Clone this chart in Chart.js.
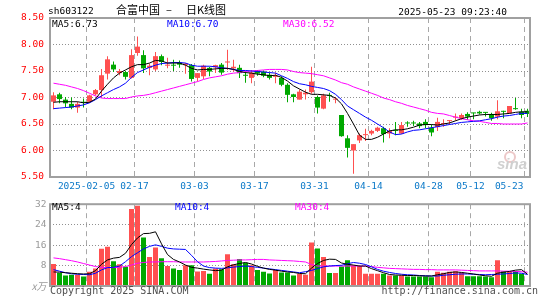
<!DOCTYPE html>
<html>
<head>
<meta charset="utf-8">
<script src="https://cdn.jsdelivr.net/npm/chart.js@4.4.1/dist/chart.umd.min.js"></script>
<style>
  body { margin: 0; background: #fff; }
  #wrap { position: relative; width: 545px; height: 300px; overflow: hidden; background: #fff; }
  canvas { position: absolute; left: 0; }
  .t { position: absolute; white-space: pre; font-family: 'DejaVu Sans Mono', monospace; font-size: 9.5px; line-height: 10px; }
  .cjk { position: absolute; white-space: pre; font-family: 'Noto Sans CJK SC', sans-serif; font-size: 11px; line-height: 11px; }
</style>
</head>
<body>
<div id="wrap">
  <canvas id="kChart" width="545" height="195" style="top:0"></canvas>
  <canvas id="volChart" width="545" height="105" style="top:195px"></canvas>

  <div class="t" style="left:48px;top:6px;color:#000">sh603122</div>
  <div class="cjk" style="left:116px;top:3.5px;color:#000">合富中国</div>
  <div class="cjk" style="left:166px;top:3.5px;color:#000">–</div>
  <div class="cjk" style="left:186px;top:3.5px;color:#000">日K线图</div>
  <div class="t" style="right:38px;top:7px;color:#000">2025-05-23 09:23:40</div>

  <div class="t" style="left:52px;top:19px;color:#000">MA5:6.73</div>
  <div class="t" style="left:167px;top:19px;color:#0000ff">MA10:6.70</div>
  <div class="t" style="left:283px;top:19px;color:#ff00ff">MA30:6.52</div>

  <div class="t" style="left:52px;top:202px;color:#000">MA5:4</div>
  <div class="t" style="left:175px;top:202px;color:#0000ff">MA10:4</div>
  <div class="t" style="left:295px;top:202px;color:#ff00ff">MA30:4</div>

  <div style="position:absolute;left:504px;top:151px;width:8px;height:8px;border:2px solid #ecc8c8;border-radius:50%"></div>
  <div style="position:absolute;left:497px;top:155px;font:italic bold 15px 'Liberation Sans',sans-serif;color:#d0d0d0">sina</div>

  <div class="t" style="left:50px;top:286px;font-size:10px;color:#505050">Copyright 2025 SINA.COM</div>
  <div class="t" style="right:7px;top:286px;font-size:10px;color:#505050">http://finance.sina.com.cn</div>
</div>
<script>
var dates = [
  '2025-01-20','2025-01-21','2025-01-22','2025-01-23','2025-01-24','2025-01-27',
  '2025-02-05','2025-02-06','2025-02-07','2025-02-10','2025-02-11','2025-02-12','2025-02-13','2025-02-14',
  '2025-02-17','2025-02-18','2025-02-19','2025-02-20','2025-02-21','2025-02-24','2025-02-25','2025-02-26',
  '2025-02-27','2025-02-28','2025-03-03','2025-03-04','2025-03-05','2025-03-06','2025-03-07','2025-03-10',
  '2025-03-11','2025-03-12','2025-03-13','2025-03-14','2025-03-17','2025-03-18','2025-03-19','2025-03-20',
  '2025-03-21','2025-03-24','2025-03-25','2025-03-26','2025-03-27','2025-03-28','2025-03-31','2025-04-01',
  '2025-04-02','2025-04-03','2025-04-07','2025-04-08','2025-04-09','2025-04-10','2025-04-11','2025-04-14',
  '2025-04-15','2025-04-16','2025-04-17','2025-04-18','2025-04-21','2025-04-22','2025-04-23','2025-04-24',
  '2025-04-25','2025-04-28','2025-04-29','2025-04-30','2025-05-06','2025-05-07','2025-05-08','2025-05-09',
  '2025-05-12','2025-05-13','2025-05-14','2025-05-15','2025-05-16','2025-05-19','2025-05-20','2025-05-21',
  '2025-05-22','2025-05-23'
];

var opens = [6.92,7.06,6.96,6.88,6.81,6.92,6.92,7.06,7.14,7.45, 7.62,7.46,7.48,7.37,7.84,7.80,7.56,7.53,7.78,7.60,
  7.61,7.66,7.61,7.61,7.37,7.40,7.56,7.57,7.62,7.66, 7.55,7.56,7.42,7.37,7.51,7.49,7.43,7.39,7.37,7.24,
  7.06,6.96,7.06,7.10,7.01,6.79,7.04,6.96,6.67,6.23, 6.00,6.19,6.29,6.32,6.37,6.42,6.32,6.38,6.32,6.52,
  6.52,6.51,6.54,6.43,6.44,6.50,6.555,6.62,6.61,6.69, 6.705,6.73,6.715,6.68,6.64,6.735,6.70,6.785,6.73,6.75];
var closes = [7.04,6.97,6.89,6.81,6.88,6.90,7.04,7.14,7.42,7.72, 7.53,7.50,7.39,7.80,7.96,7.55,7.60,7.78,7.67,7.62,
  7.60,7.62,7.64,7.35,7.46,7.60,7.49,7.61,7.47,7.68, 7.58,7.46,7.41,7.47,7.45,7.41,7.37,7.41,7.24,7.05,
  7.01,7.11,7.09,7.30,6.81,7.04,7.03,6.97,6.27,6.05, 6.12,6.29,6.30,6.37,6.43,6.31,6.37,6.37,6.48,6.51,
  6.51,6.46,6.48,6.34,6.54,6.51,6.56,6.63,6.67,6.64, 6.70,6.70,6.71,6.61,6.74,6.73,6.84,6.78,6.67,6.69];
var highs = [7.10,7.09,7.01,7.00,6.92,6.98,7.05,7.16,7.54,7.78, 7.68,7.54,7.50,7.91,8.15,7.89,7.64,7.86,7.81,7.75,
  7.71,7.70,7.65,7.63,7.46,7.62,7.58,7.62,7.65,7.90, 7.71,7.62,7.49,7.52,7.52,7.51,7.47,7.47,7.40,7.27,
  7.07,7.15,7.15,7.58,7.04,7.07,7.09,7.01,6.67,6.29, 6.12,6.32,6.41,6.39,6.45,6.45,6.42,6.54,6.54,6.55,
  6.56,6.54,6.59,6.48,6.62,6.59,6.56,6.70,6.70,6.72, 6.71,6.75,6.72,6.71,6.95,6.75,6.84,6.99,6.79,6.79];
var lows = [6.78,6.89,6.81,6.78,6.71,6.81,6.90,7.04,7.01,7.34, 7.48,7.42,7.34,7.36,7.79,7.46,7.42,7.50,7.61,7.55,
  7.50,7.56,7.45,7.30,7.30,7.35,7.40,7.46,7.43,7.52, 7.49,7.37,7.28,7.27,7.41,7.38,7.34,7.27,7.21,6.91,
  6.91,6.96,6.96,7.07,6.70,6.78,6.92,6.89,6.26,5.87, 5.56,6.14,6.18,6.29,6.35,6.15,6.23,6.29,6.31,6.45,
  6.46,6.42,6.42,6.27,6.37,6.45,6.48,6.56,6.58,6.58, 6.59,6.68,6.64,6.56,6.59,6.61,6.70,6.77,6.61,6.63];

// price moving averages
var ma5 = [6.91,6.92,6.92,6.92,6.92,6.90,6.91,6.97,7.12,7.25, 7.37,7.46,7.52,7.58,7.62,7.62,7.65,7.70,7.69,7.65,
  7.65,7.65,7.61,7.55,7.52,7.53,7.53,7.54,7.55,7.55, 7.53,7.49,7.47,7.46,7.44,7.43,7.41,7.42,7.38,7.31,
  7.22,7.16,7.10,7.06,7.06,7.05,7.04,6.99,6.88,6.70, 6.50,6.29,6.21,6.21,6.25,6.31,6.37,6.39,6.39,6.41,
  6.44,6.48,6.49,6.49,6.48,6.50,6.52,6.56,6.60,6.63, 6.65,6.67,6.68,6.68,6.68,6.69,6.70,6.72,6.73,6.73];
var ma10 = [6.79,6.80,6.81,6.82,6.84,6.86,6.90,6.96,7.03,7.09, 7.15,7.20,7.27,7.38,7.47,7.52,7.57,7.61,7.64,7.65,
  7.66,7.66,7.65,7.61,7.59,7.59,7.59,7.58,7.56,7.55, 7.53,7.51,7.51,7.50,7.49,7.48,7.47,7.46,7.41,7.36,
  7.30,7.26,7.24,7.21,7.19,7.17,7.13,7.06,6.96,6.84, 6.77,6.70,6.63,6.57,6.50,6.43,6.35,6.30,6.31,6.35,
  6.38,6.39,6.41,6.43,6.45,6.47,6.49,6.51,6.53,6.54, 6.55,6.56,6.58,6.60,6.63,6.65,6.66,6.68,6.70,6.70];
var ma30 = [7.27,7.25,7.23,7.20,7.17,7.13,7.08,7.03,6.99,6.98, 6.98,6.98,6.98,7.01,7.03,7.04,7.06,7.09,7.12,7.15,
  7.18,7.21,7.24,7.27,7.30,7.34,7.37,7.39,7.41,7.44, 7.46,7.47,7.49,7.50,7.51,7.52,7.53,7.53,7.53,7.52,
  7.49,7.47,7.46,7.45,7.43,7.41,7.37,7.33,7.28,7.25, 7.20,7.16,7.12,7.08,7.04,6.99,6.96,6.92,6.89,6.85,
  6.82,6.79,6.76,6.72,6.70,6.69,6.66,6.63,6.60,6.58, 6.56,6.55,6.53,6.51,6.51,6.50,6.50,6.50,6.50,6.52];

// volume (x万) and its moving averages
var vols = [8.6,5.1,4.1,4.4,4.4,3.7,5.6,6.8,14.6,15.4, 9.7,8.5,7.5,30.1,31.4,19.0,11.3,15.1,10.9,7.8,
  6.8,6.3,8.1,8.1,5.7,5.9,4.8,6.8,6.6,12.4, 8.5,10.6,9.1,8.1,6.3,5.6,4.9,6.3,5.3,5.3,
  4.1,4.7,4.4,17.0,14.7,11.3,5.1,5.1,7.6,10.1, 8.1,7.8,4.8,4.8,4.8,4.8,4.1,4.1,4.1,3.7,
  3.7,3.7,3.7,3.4,5.6,5.2,5.6,5.8,5.3,3.8, 3.8,3.8,3.7,3.4,10.1,5.8,5.6,5.9,4.8,0.3];
var vol5 = [5.5,5.4,5.2,5.0,4.8,4.7,4.8,6.0,8.5,10.2, 10.9,11.2,12.8,16.2,18.8,20.5,20.6,21.2,16.5,12.3,
  10.4,9.4,8.2,7.3,7.0,6.6,6.3,6.0,6.2,7.5, 8.3,8.8,9.2,8.6,7.7,7.0,6.5,6.2,5.8,5.5,
  5.3,4.9,4.8,7.0,8.8,10.0,10.5,10.4,9.0,8.5, 8.2,7.8,7.8,6.8,6.0,5.2,4.5,4.3,4.2,4.1,
  4.1,4.0,3.9,3.9,4.4,4.8,5.3,5.5,5.3,5.0, 4.7,4.3,4.0,3.8,5.0,5.4,5.7,6.2,6.4,4.6];
var vol10 = [6.4,5.8,5.2,4.8,4.6,4.5,4.4,5.0,6.3,7.2, 7.3,7.8,9.5,11.5,13.0,14.5,15.5,16.1,15.5,14.8,
  14.5,14.4,14.3,12.0,9.5,7.8,7.2,7.0,6.9,7.1, 7.4,7.6,7.8,7.6,7.3,7.0,6.7,6.4,6.1,5.8,
  5.5,5.2,5.6,6.1,6.8,7.5,7.8,8.0,8.1,8.7, 9.2,8.9,8.4,7.5,6.5,5.8,5.3,4.9,4.6,4.4,
  4.3,4.1,4.0,3.9,3.9,4.2,4.4,4.6,4.7,4.7, 4.6,4.5,4.4,4.5,4.6,4.7,4.9,5.1,5.0,4.5];
var vol30 = [11.0,10.7,10.3,9.9,9.4,8.8,8.2,7.6,7.3,7.2, 7.2,7.3,7.6,8.2,8.9,9.2,9.4,9.4,9.5,9.5,
  9.5,9.4,9.4,9.4,9.4,9.4,9.5,9.6,9.8,10.0, 10.1,10.2,10.2,10.3,10.4,10.4,10.2,10.1,10.0,9.9,
  9.8,9.6,9.4,8.4,7.8,7.8,7.8,7.8,7.8,7.8, 7.8,7.8,7.8,7.6,7.3,7.1,6.9,6.8,6.7,6.6,
  6.5,6.5,6.4,6.4,6.3,6.3,6.3,6.3,6.2,6.1, 6.0,5.9,5.9,5.9,5.9,5.8,5.8,5.7,5.6,5.4];

var tickDates = ['2025-02-05','2025-02-17','2025-03-03','2025-03-17','2025-03-31','2025-04-14','2025-04-28','2025-05-12','2025-05-23'];
var tickLabels = ['2025-02-05','02-17','03-03','03-17','03-31','04-14','04-28','05-12','05-23'];
var tickIdx = tickDates.map(function (d) { return dates.indexOf(d); });

var upColor = '#ff5050', downColor = '#00a800';
var candleColors = closes.map(function (c, i) { return c >= opens[i] ? upColor : downColor; });

function pts(arr) { return arr.map(function (v, i) { return { x: i, y: v }; }); }

function maLine(arr, color) {
  return { type: 'line', data: pts(arr), borderColor: color, borderWidth: 1, pointRadius: 0, fill: false, order: 0 };
}

// same x axis for both panes: candle centres on half pixels, grid lines between candles
function xAxis(h) {
  return {
    type: 'linear', min: -7 / 12, max: 80 - 7 / 12, offset: false,
    afterBuildTicks: function (s) { s.ticks = tickIdx.map(function (i) { return { value: i - 0.5 }; }); },
    afterFit: function (s) { s.height = h; },
    ticks: { display: false },
    grid: { color: '#a8a8a8', lineWidth: 1, drawTicks: false, offset: false },
    border: { display: false, dash: [5, 4] }
  };
}

var boxPlugin = {
  id: 'box',
  afterDatasetsDraw: function (chart) {
    var a = chart.chartArea, ctx = chart.ctx;
    ctx.save();
    ctx.strokeStyle = '#a0a0a0';
    ctx.lineWidth = 2;
    ctx.strokeRect(a.left, a.top, a.right - a.left, a.bottom - a.top);
    ctx.restore();
  }
};

var dateLabels = {
  id: 'dateLabels',
  afterDraw: function (chart) {
    var xs = chart.scales.x, ctx = chart.ctx;
    ctx.save();
    ctx.font = '9.5px "DejaVu Sans Mono"';
    ctx.fillStyle = '#0a78c8';
    ctx.textBaseline = 'middle';
    tickIdx.forEach(function (idx, k) {
      var px = xs.getPixelForValue(idx - 0.5);
      if (k === tickIdx.length - 1) {
        ctx.textAlign = 'right';
        ctx.fillText(tickLabels[k], px - 1, chart.chartArea.bottom + 9.5);
      } else {
        ctx.textAlign = 'center';
        ctx.fillText(tickLabels[k], px, chart.chartArea.bottom + 9.5);
      }
    });
    ctx.restore();
  }
};

Chart.defaults.font.family = 'DejaVu Sans Mono';
Chart.defaults.font.size = 9.5;

new Chart(document.getElementById('kChart'), {
  type: 'bar',
  data: {
    datasets: [
      maLine(ma5, '#000000'),
      maLine(ma10, '#0000ff'),
      maLine(ma30, '#ff00ff'),
      {
        data: opens.map(function (o, i) { return { x: i, y: [o, closes[i]] }; }),
        backgroundColor: candleColors, barThickness: 5, minBarLength: 1,
        grouped: false, inflateAmount: 0, borderWidth: 0, order: 1
      },
      {
        data: lows.map(function (l, i) { return { x: i, y: [l, highs[i]] }; }),
        backgroundColor: candleColors, barThickness: 1, minBarLength: 1,
        grouped: false, inflateAmount: 0, borderWidth: 0, order: 2
      }
    ]
  },
  options: {
    responsive: false, animation: false, devicePixelRatio: 1, events: [],
    layout: { padding: { top: 18, right: 15, left: 0, bottom: 0 } },
    plugins: { legend: { display: false }, tooltip: { enabled: false } },
    scales: {
      x: xAxis(18),
      y: {
        min: 5.5, max: 8.5,
        afterFit: function (s) { s.width = 50; },
        ticks: {
          stepSize: 0.5, color: '#ff0000', padding: 6,
          callback: function (v) { return Number(v).toFixed(2); }
        },
        grid: {
          drawTicks: false, lineWidth: 1,
          color: function (c) { return (c.tick.value === 5.5 || c.tick.value === 8.5) ? 'rgba(0,0,0,0)' : '#909090'; }
        },
        border: { display: false, dash: [1, 2] }
      }
    }
  },
  plugins: [boxPlugin, dateLabels]
});

new Chart(document.getElementById('volChart'), {
  type: 'bar',
  data: {
    datasets: [
      maLine(vol5, '#000000'),
      maLine(vol10, '#0000ff'),
      maLine(vol30, '#ff00ff'),
      {
        data: pts(vols), backgroundColor: candleColors, barThickness: 5, minBarLength: 1,
        grouped: false, inflateAmount: 0, borderWidth: 0, order: 1
      }
    ]
  },
  options: {
    responsive: false, animation: false, devicePixelRatio: 1, events: [],
    layout: { padding: { top: 6, right: 15, left: 0, bottom: 0 } },
    plugins: { legend: { display: false }, tooltip: { enabled: false } },
    scales: {
      x: xAxis(14),
      y: {
        min: 0, max: 32,
        afterFit: function (s) { s.width = 50; },
        ticks: {
          stepSize: 8, color: '#999999', padding: 3.5,
          callback: function (v) { return v === 0 ? 'x万' : String(v); },
          font: function (c) {
            return c.tick && c.tick.value === 0
              ? { family: 'Noto Sans CJK SC', size: 10, style: 'italic' }
              : { family: 'DejaVu Sans Mono', size: 9.5 };
          }
        },
        grid: {
          drawTicks: false, lineWidth: 1,
          color: function (c) { return (c.tick.value === 0 || c.tick.value === 32) ? 'rgba(0,0,0,0)' : '#909090'; }
        },
        border: { display: false, dash: [1, 2] }
      }
    }
  },
  plugins: [boxPlugin]
});
</script>
</body>
</html>
